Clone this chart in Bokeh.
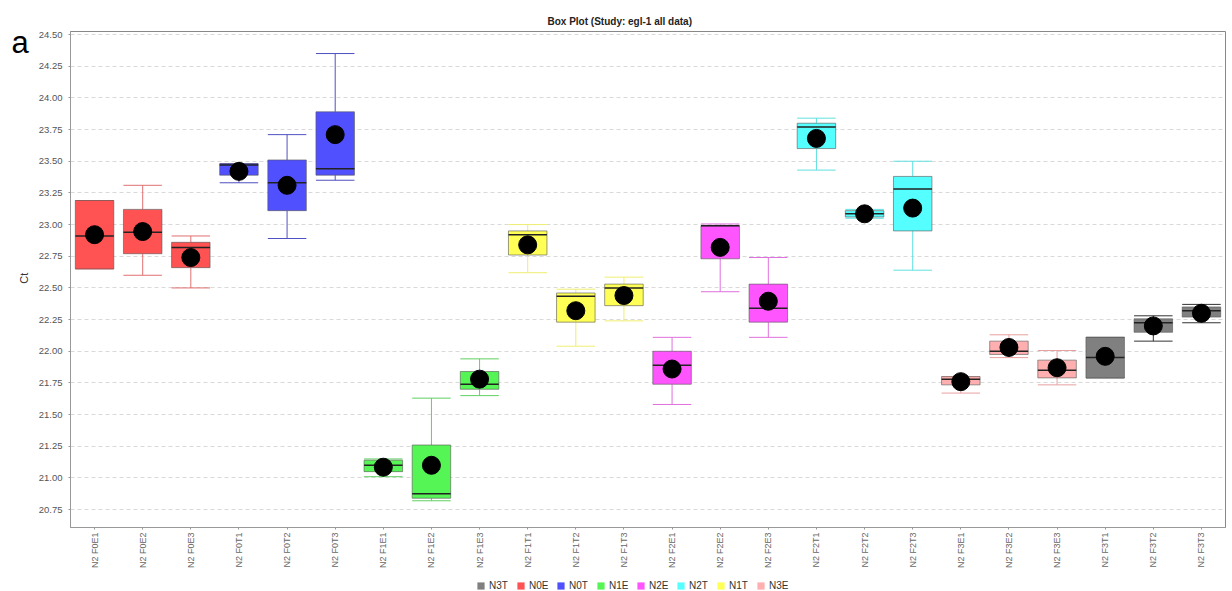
import math
from bokeh.plotting import figure
from bokeh.layouts import row, column
from bokeh.models import (ColumnDataSource, Range1d, FactorRange, Legend, LegendItem,
                          Label, FixedTicker, NumeralTickFormatter)
from bokeh.transform import dodge
from bokeh.embed import file_html
from bokeh.resources import INLINE

# ---------------- data ----------------
categories = ["N2 F0E1", "N2 F0E2", "N2 F0E3", "N2 F0T1", "N2 F0T2", "N2 F0T3",
              "N2 F1E1", "N2 F1E2", "N2 F1E3", "N2 F1T1", "N2 F1T2", "N2 F1T3",
              "N2 F2E1", "N2 F2E2", "N2 F2E3", "N2 F2T1", "N2 F2T2", "N2 F2T3",
              "N2 F3E1", "N2 F3E2", "N2 F3E3", "N2 F3T1", "N2 F3T2", "N2 F3T3"]
groups = (["N0E"] * 3 + ["N0T"] * 3 + ["N1E"] * 3 + ["N1T"] * 3 +
          ["N2E"] * 3 + ["N2T"] * 3 + ["N3E"] * 3 + ["N3T"] * 3)

whisker_hi = [23.19, 23.31, 22.91, 23.48, 23.71, 24.35, 21.15, 21.63, 21.94, 23.00, 22.49, 22.585,
              22.11, 23.005, 22.74, 23.84, 23.12, 23.50, 21.80, 22.13, 22.006, 22.11, 22.28, 22.37]
q3 = [23.19, 23.12, 22.86, 23.48, 23.51, 23.89, 21.14, 21.26, 21.84, 22.95, 22.46, 22.53,
      22.00, 22.99, 22.53, 23.80, 23.11, 23.38, 21.80, 22.08, 21.93, 22.11, 22.256, 22.35]
median = [22.91, 22.94, 22.82, 23.47, 23.33, 23.44, 21.10, 20.875, 21.74, 22.92, 22.435, 22.50,
          21.89, 22.99, 22.34, 23.77, 23.085, 23.28, 21.78, 22.00, 21.85, 21.95, 22.225, 22.32]
q1 = [22.65, 22.77, 22.66, 23.39, 23.11, 23.39, 21.05, 20.84, 21.70, 22.76, 22.23, 22.36,
      21.74, 22.73, 22.23, 23.60, 23.06, 22.95, 21.735, 21.975, 21.79, 21.79, 22.15, 22.27]
whisker_lo = [22.65, 22.60, 22.50, 23.33, 22.89, 23.35, 21.01, 20.82, 21.65, 22.62, 22.04, 22.24,
              21.58, 22.47, 22.11, 23.43, 23.05, 22.64, 21.67, 21.95, 21.735, 21.79, 22.08, 22.225]
mean = [22.92, 22.945, 22.74, 23.42, 23.31, 23.71, 21.085, 21.10, 21.78, 22.84, 22.32, 22.44,
        21.86, 22.82, 22.395, 23.68, 23.085, 23.13, 21.76, 22.03, 21.87, 21.96, 22.20, 22.30]

legend_order = ["N3T", "N0E", "N0T", "N1E", "N2E", "N2T", "N1T", "N3E"]
group_colors = {"N3T": "#808080", "N0E": "#ff5252", "N0T": "#5050ff", "N1E": "#55f555",
                "N2E": "#ff55ff", "N2T": "#55ffff", "N1T": "#ffff55", "N3E": "#ffafaf"}
whisker_colors = {"N3T": "#333333", "N0E": "#e07070", "N0T": "#5050c0", "N1E": "#60d060",
                  "N2E": "#e070e0", "N2T": "#60e0e0", "N1T": "#eeee70", "N3E": "#e8a0a0"}
y_ticks = [20.75, 21.0, 21.25, 21.5, 21.75, 22.0, 22.25, 22.5, 22.75, 23.0, 23.25, 23.5, 23.75, 24.0, 24.25, 24.5]

FONT = "Liberation Sans"
LEFT_W = 34
MAIN_H = 573

# ---------------- main plot ----------------
p = figure(width=1232 - LEFT_W, height=MAIN_H, x_range=FactorRange(*categories, range_padding=0),
           y_range=Range1d(20.609, 24.524), output_backend="svg", toolbar_location=None,
           min_border_left=70 - LEFT_W, min_border_right=7, min_border_top=31,
           min_border_bottom=MAIN_H - 527)

p.title.text = "Box Plot (Study: egl-1 all data)"
p.title.align = "left"
p.title.offset = 547 - 70
p.title.text_font = FONT
p.title.text_font_size = "10px"
p.title.text_font_style = "bold"
p.title.text_color = "#222222"
p.title.standoff = 10

W = 0.8
for g in legend_order:
    idx = [i for i, gg in enumerate(groups) if gg == g]
    src = ColumnDataSource(dict(
        cat=[categories[i] for i in idx],
        whi=[whisker_hi[i] for i in idx],
        q3=[q3[i] for i in idx],
        med=[median[i] for i in idx],
        q1=[q1[i] for i in idx],
        wlo=[whisker_lo[i] for i in idx],
        mean=[mean[i] for i in idx],
    ))
    wc = whisker_colors[g]
    p.segment(x0="cat", y0="q3", x1="cat", y1="whi", source=src, line_color=wc, line_width=1)
    p.segment(x0="cat", y0="q1", x1="cat", y1="wlo", source=src, line_color=wc, line_width=1)
    p.segment(x0=dodge("cat", -W / 2, range=p.x_range), y0="whi",
              x1=dodge("cat", W / 2, range=p.x_range), y1="whi", source=src, line_color=wc, line_width=1)
    p.segment(x0=dodge("cat", -W / 2, range=p.x_range), y0="wlo",
              x1=dodge("cat", W / 2, range=p.x_range), y1="wlo", source=src, line_color=wc, line_width=1)
    p.vbar(x="cat", top="q3", bottom="q1", width=W, source=src, fill_color=group_colors[g],
           line_color="#555555", line_alpha=0.6, line_width=1)
    p.segment(x0=dodge("cat", -W / 2, range=p.x_range), y0="med",
              x1=dodge("cat", W / 2, range=p.x_range), y1="med", source=src,
              line_color="#222222", line_width=1.5)
    p.scatter(x="cat", y="mean", source=src, size=18, marker="circle",
              fill_color="black", line_color="black")

p.yaxis.ticker = FixedTicker(ticks=y_ticks)
p.yaxis.formatter = NumeralTickFormatter(format="0.00")
p.yaxis.major_label_text_font = FONT
p.yaxis.major_label_text_font_size = "9.5px"
p.yaxis.major_label_text_color = "#555555"
p.yaxis.major_label_standoff = 6
p.yaxis.major_tick_out = 2
p.yaxis.major_tick_in = 0
p.yaxis.minor_tick_out = 0
p.yaxis.minor_tick_in = 0
p.yaxis.axis_line_color = "#999999"
p.yaxis.major_tick_line_color = "#999999"

p.xaxis.major_label_orientation = math.pi / 2
p.xaxis.major_label_text_font = FONT
p.xaxis.major_label_text_font_size = "9px"
p.xaxis.major_label_text_color = "#666666"
p.xaxis.major_label_standoff = 3
p.xaxis.major_tick_out = 2
p.xaxis.major_tick_in = 0
p.xaxis.axis_line_color = "#999999"
p.xaxis.major_tick_line_color = "#999999"

p.xgrid.grid_line_color = None
p.ygrid.grid_line_color = "#d9d9d9"
p.ygrid.grid_line_dash = "4 3"
p.outline_line_color = "#888888"
p.outline_line_width = 1

# ---------------- left strip: panel letter and y-axis label ----------------
left = figure(width=LEFT_W, height=MAIN_H, x_range=Range1d(0, LEFT_W), y_range=Range1d(MAIN_H, 0),
              output_backend="svg", toolbar_location=None, min_border=0)
left.axis.visible = False
left.grid.visible = False
left.outline_line_color = None
left.add_layout(Label(x=11, y=-8, text="a", text_font=FONT, text_font_size="31px",
                      text_color="black", text_baseline="top", text_align="left"))
left.add_layout(Label(x=23, y=285, text="Ct", angle=math.pi / 2, text_font=FONT,
                      text_font_size="11px", text_color="#333333",
                      text_align="center", text_baseline="middle"))

# ---------------- legend strip ----------------
leg = figure(width=1232, height=591 - MAIN_H, x_range=Range1d(0, 1), y_range=Range1d(0, 1),
             output_backend="svg", toolbar_location=None, min_border=0)
leg.axis.visible = False
leg.grid.visible = False
leg.outline_line_color = None
dummies = {}
for g in legend_order:
    # one off-range bar per series so the legend swatch gets its colour
    dummies[g] = leg.vbar(x=[-5], top=[-5], bottom=[-6], width=0.1,
                          fill_color=group_colors[g], line_color=None)
legend = Legend(items=[LegendItem(label=g, renderers=[dummies[g]]) for g in legend_order],
                orientation="horizontal", location=(476, 0),
                label_text_font=FONT, label_text_font_size="10px", label_text_color="#333333",
                glyph_width=9, glyph_height=9, label_standoff=4, spacing=7,
                label_height=10, padding=3, margin=0, border_line_color=None,
                background_fill_alpha=0)
leg.add_layout(legend, "center")

layout = column(row(left, p), leg)
open("out.html", "w").write(file_html(layout, INLINE))
